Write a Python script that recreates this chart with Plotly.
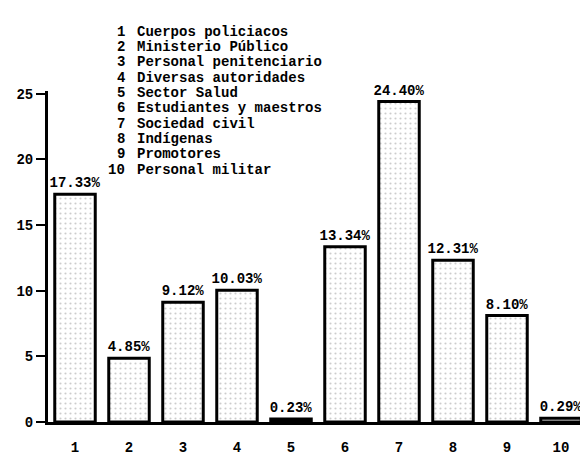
import plotly.graph_objects as go

categories = ["1", "2", "3", "4", "5", "6", "7", "8", "9", "10"]
values = [17.33, 4.85, 9.12, 10.03, 0.23, 13.34, 24.40, 12.31, 8.10, 0.29]
value_labels = ["17.33%", "4.85%", "9.12%", "10.03%", "0.23%", "13.34%", "24.40%", "12.31%", "8.10%", "0.29%"]
legend_names = [
    "Cuerpos policiacos", "Ministerio Público", "Personal penitenciario",
    "Diversas autoridades", "Sector Salud", "Estudiantes y maestros",
    "Sociedad civil", "Indígenas", "Promotores", "Personal militar",
]
y_ticks = [0, 5, 10, 15, 20, 25]

FONT = "Liberation Mono"

fig = go.Figure()
fig.add_trace(go.Bar(
    x=categories, y=values,
    text=value_labels, textposition="outside", cliponaxis=False,
    constraintext="none",
    textfont=dict(family=FONT, size=14, color="black", weight="bold"),
    marker=dict(color="white",
                line=dict(color="black", width=3),
                pattern=dict(shape=".", fgcolor="#9a9a9a", bgcolor="white",
                             size=5, solidity=0.15)),
    width=0.75,
))

# legend-like text block
top_y = 23
step = 15.5
L, W, T, H = 40, 540, 83, 335
for i, name in enumerate(legend_names):
    y = top_y + i * step
    fig.add_annotation(xref="paper", yref="paper", x=(119 - L) / W, y=1 - (y - T) / H,
                       text=str(i + 1), showarrow=False, xanchor="right", yanchor="middle",
                       font=dict(family=FONT, size=14, color="black", weight="bold"))
    fig.add_annotation(xref="paper", yref="paper", x=(127 - L) / W, y=1 - (y - T) / H,
                       text=name, showarrow=False, xanchor="left", yanchor="middle",
                       font=dict(family=FONT, size=14, color="black", weight="bold"))

fig.update_layout(
    width=588, height=456,
    margin=dict(l=L, r=588 - L - W, t=T, b=456 - T - H),
    paper_bgcolor="white", plot_bgcolor="white",
    showlegend=False, bargap=0.25,
    font=dict(family=FONT, size=14, color="black", weight="bold"),
    xaxis=dict(type="category", range=[-0.5, 9.5], showgrid=False, zeroline=False,
               showline=True, linecolor="black", linewidth=3,
               ticks="", ticklabelstandoff=10,
               tickfont=dict(family=FONT, size=14, color="black", weight="bold")),
    yaxis=dict(range=[0, 25.2], tickvals=y_ticks, showgrid=False, zeroline=False,
               showline=True, linecolor="black", linewidth=3,
               ticks="outside", ticklen=9, tickwidth=2, tickcolor="black",
               tickfont=dict(family=FONT, size=14, color="black", weight="bold")),
)

fig.write_html("out.html")
